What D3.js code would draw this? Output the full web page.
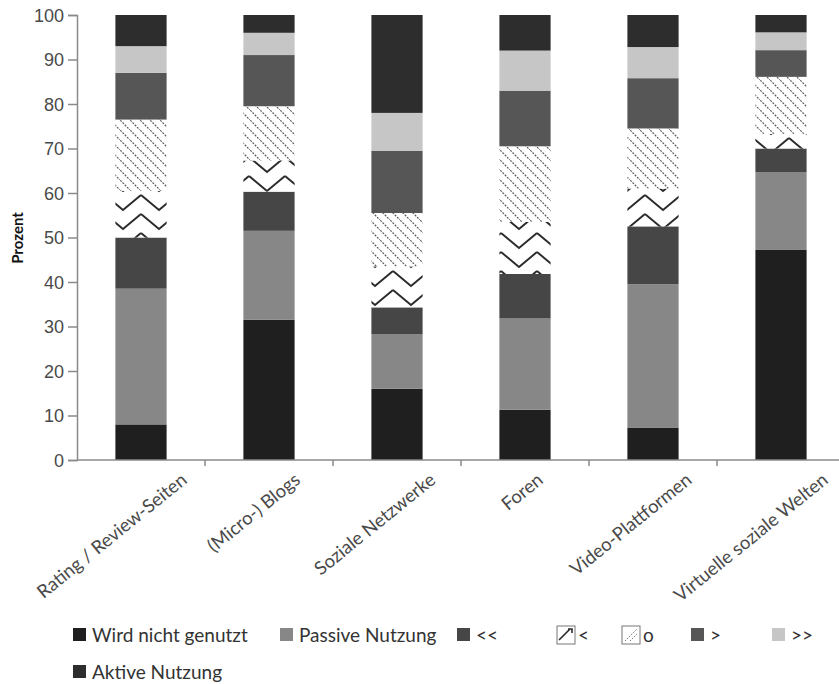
<!DOCTYPE html>
<html><head><meta charset="utf-8">
<script src="https://cdn.jsdelivr.net/npm/d3@7"></script>
<style>
body{margin:0;background:#fff;}
svg{display:block;font-family:Lato,"Open Sans",sans-serif;}
</style></head>
<body><svg id="c" width="839" height="684"></svg>
<script>
const categories = ["Rating / Review-Seiten","(Micro-) Blogs","Soziale Netzwerke","Foren","Video-Plattformen","Virtuelle soziale Welten"];
const seriesNames = ["Wird nicht genutzt","Passive Nutzung","<<","<","o",">",">>","Aktive Nutzung"];
const wirdNicht = [8, 31.5, 16, 11.3, 7.3, 47.2];
const passiv    = [30.5, 20, 12.3, 20.5, 32.2, 17.5];
const sehrWenig = [11.5, 8.8, 6, 10, 13, 5.3];
const wenig     = [10.5, 7, 9.2, 11.7, 8.5, 3.3];
const neutral   = [16, 12.2, 12, 17, 13.5, 12.8];
const mehr      = [10.5, 11.5, 14, 12.5, 11.3, 6];
const vielMehr  = [6, 5, 8.5, 9, 7, 4];
const aktiv     = [7, 4, 22, 8, 7.2, 3.9];
const yTicks = [0,10,20,30,40,50,60,70,80,90,100];
const yLabel = "Prozent";

const seriesValues = [wirdNicht, passiv, sehrWenig, wenig, neutral, mehr, vielMehr, aktiv];
const fills = ["#1f1f1f","#878787","#464646","url(#zig)","url(#hatch)","#565656","#c6c6c6","#2d2d2d"];

const svg = d3.select("#c");
const defs = svg.append("defs");
const zig = defs.append("pattern").attr("id","zig").attr("patternUnits","userSpaceOnUse")
  .attr("width",36).attr("height",19).attr("x",-3).attr("y",3);
zig.append("rect").attr("width",36).attr("height",19).attr("fill","#fff");
zig.append("path").attr("d","M0,2 L18,17 L36,2").attr("fill","none").attr("stroke","#2b2b2b").attr("stroke-width",2);
const hatch = defs.append("pattern").attr("id","hatch").attr("patternUnits","userSpaceOnUse")
  .attr("width",10).attr("height",10);
hatch.append("rect").attr("width",10).attr("height",10).attr("fill","#fff");
hatch.append("path").attr("d","M-2,-2 L12,12 M-2,8 L2,12 M8,-2 L12,2").attr("stroke","#5e5e5e").attr("stroke-width",1.2).attr("stroke-dasharray","2,1.2");
// small legend variants
const zigS = defs.append("pattern").attr("id","zigS").attr("patternUnits","objectBoundingBox")
  .attr("width",1).attr("height",1);
zigS.append("rect").attr("width",18).attr("height",18).attr("fill","#fff");
zigS.append("path").attr("d","M2,14 L13,3 M11,3 L15,3 L15,7").attr("fill","none").attr("stroke","#2b2b2b").attr("stroke-width",1.6);
const hatS = defs.append("pattern").attr("id","hatS").attr("patternUnits","objectBoundingBox")
  .attr("width",1).attr("height",1);
hatS.append("rect").attr("width",18).attr("height",18).attr("fill","#fff");
hatS.append("path").attr("d","M3,15 L15,3 M8,15 L15,8").attr("fill","none").attr("stroke","#777").attr("stroke-width",1).attr("stroke-dasharray","1.5,1.2");

const x = d3.scaleBand().domain(categories).range([77,845]).paddingInner(0.6).paddingOuter(0.3);
const y = d3.scaleLinear().domain([0,100]).range([460,15]);

const rows = categories.map((c,i)=>{const o={cat:c}; seriesNames.forEach((s,k)=>o[s]=seriesValues[k][i]); return o;});
const stack = d3.stack().keys(seriesNames)(rows);

svg.append("g").selectAll("g").data(stack).join("g")
  .attr("fill",(d,i)=>fills[i])
  .selectAll("rect").data(d=>d).join("rect")
  .attr("x",d=>x(d.data.cat)).attr("width",x.bandwidth())
  .attr("y",d=>y(d[1])).attr("height",d=>y(d[0])-y(d[1]));

// y axis
const yAxis = svg.append("g").attr("transform","translate(77,0)")
  .call(d3.axisLeft(y).tickValues(yTicks).tickSize(9).tickPadding(4));
yAxis.select(".domain").attr("stroke","#8a8a8a").attr("stroke-width",1.5);
yAxis.selectAll(".tick line").attr("stroke","#8a8a8a").attr("stroke-width",1.5);
yAxis.selectAll("text").attr("fill","#4a4a4a").style("font-size","18px").attr("dy","0.35em");

// x axis line + boundary ticks
const xAxisG = svg.append("g");
xAxisG.append("line").attr("x1",77).attr("x2",845).attr("y1",y(0)).attr("y2",y(0)).attr("stroke","#8a8a8a").attr("stroke-width",1.5);
const step = x.step();
xAxisG.selectAll("line.t").data(categories.slice(1)).join("line").attr("class","t")
  .attr("x1",d=>x(d)-x.paddingInner()*step/2).attr("x2",d=>x(d)-x.paddingInner()*step/2)
  .attr("y1",y(0)).attr("y2",y(0)+6).attr("stroke","#8a8a8a").attr("stroke-width",1.5);
const xl = xAxisG.selectAll("text").data(categories).join("text")
  .attr("text-anchor","end").attr("fill","#4a4a4a").style("font-size","18.5px")
  .text(d=>d);
xl.each(function(d){
  const len = this.getComputedTextLength();
  const ox = x(d)+x.bandwidth()/2 + 10 + 0.2*len;
  d3.select(this).attr("transform",`translate(${ox},${y(0)+22}) rotate(-39)`);
});

// y label
svg.append("text").attr("transform","translate(23,238) rotate(-90)").attr("text-anchor","middle")
  .style("font-size","15px").style("font-weight","bold").attr("fill","#111").text(yLabel);

// legend
const legX = [73,280,457,557,622,691,772,73];
const legY = [635,635,635,635,635,635,635,672];
const legFill = ["#1f1f1f","#878787","#464646","url(#zigS)","url(#hatS)","#565656","#c6c6c6","#2d2d2d"];
const leg = svg.append("g").selectAll("g").data(seriesNames).join("g")
  .attr("transform",(d,i)=>`translate(${legX[i]},${legY[i]})`);
leg.append("rect").attr("x",0).attr("y",(d,i)=>(i===3||i===4)?-9:-7).attr("width",(d,i)=>(i===3||i===4)?18:13).attr("height",(d,i)=>(i===3||i===4)?18:13)
  .attr("fill",(d,i)=>legFill[i]).attr("stroke",(d,i)=>(i===3||i===4)?"#777":"none");
leg.append("text").attr("x",(d,i)=>(i===3||i===4)?21:19).attr("y",7).attr("fill","#333").style("font-size","19px").text(d=>d);
</script></body></html>
